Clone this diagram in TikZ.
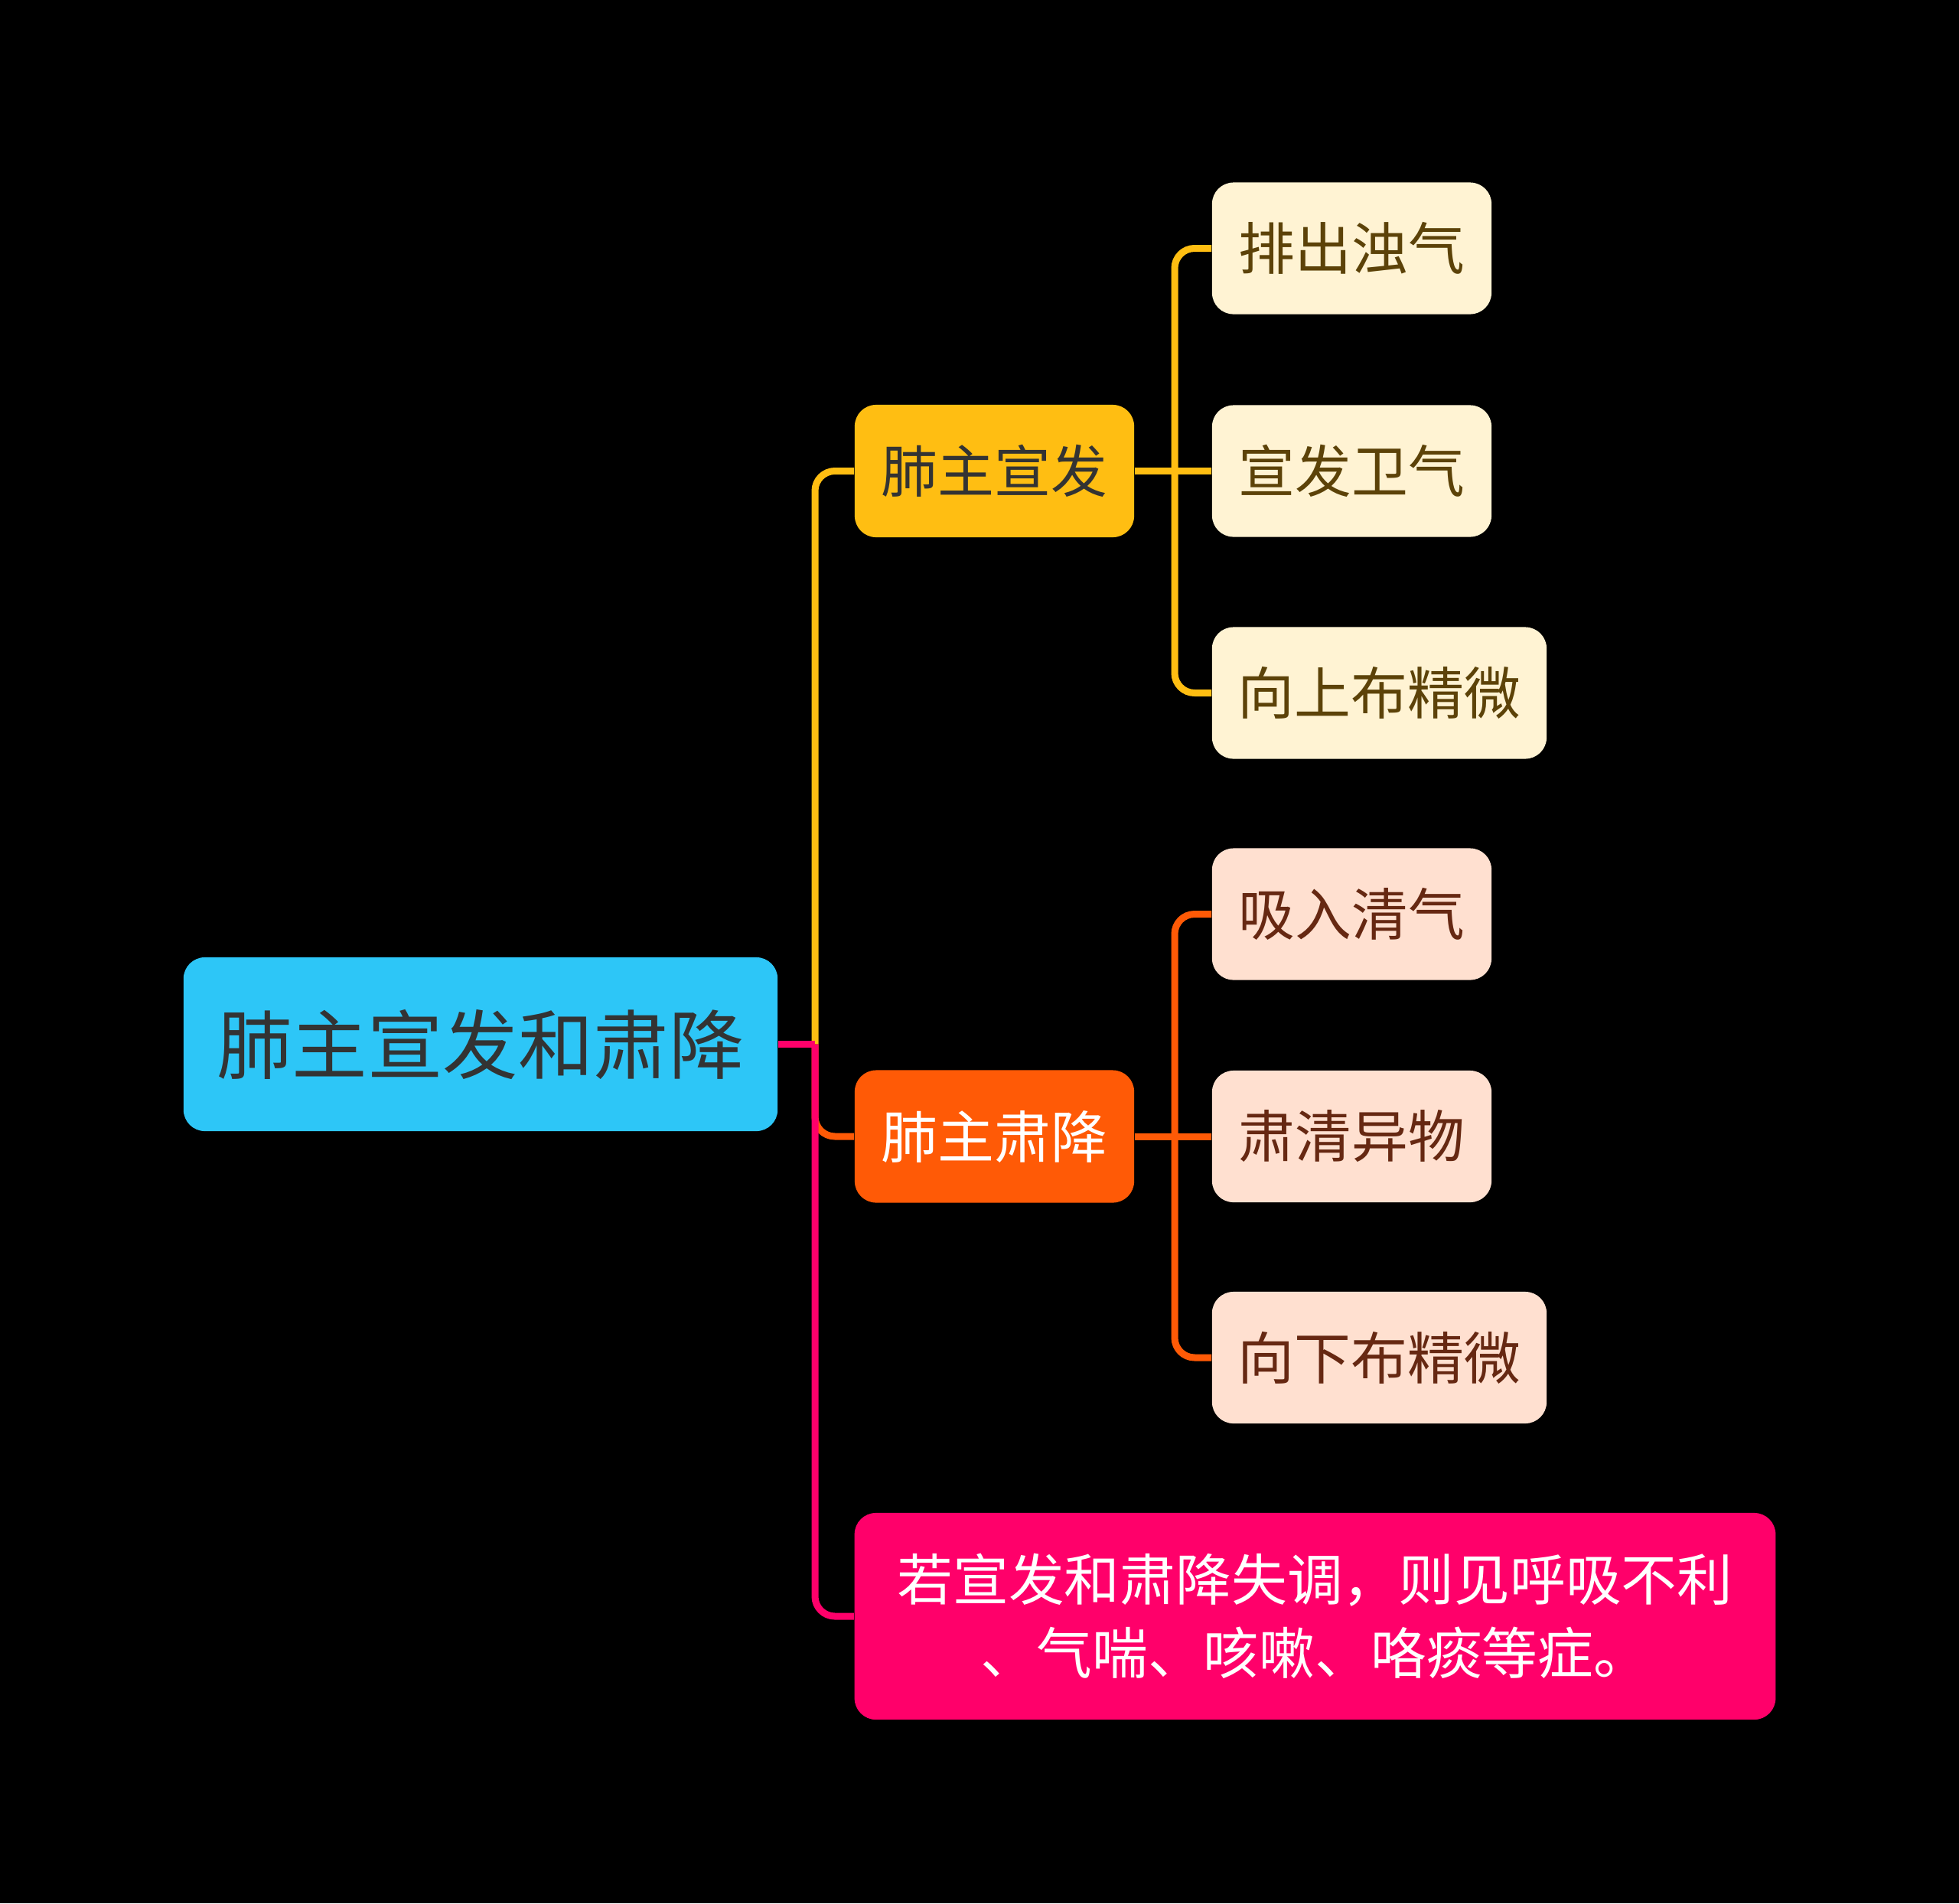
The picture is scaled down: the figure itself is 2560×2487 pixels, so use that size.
\documentclass[tikz,border=0pt]{standalone}
\usepackage{fontspec}
\setmainfont{Noto Sans CJK SC}
\definecolor{rootfill}{RGB}{45,198,247}
\definecolor{darktext}{RGB}{51,51,51}
\definecolor{amber}{RGB}{255,190,18}
\definecolor{orangered}{RGB}{255,90,6}
\definecolor{cream}{RGB}{255,243,211}
\definecolor{creamtext}{RGB}{92,66,8}
\definecolor{peach}{RGB}{255,224,208}
\definecolor{peachtext}{RGB}{102,40,18}
\definecolor{hotpink}{RGB}{255,0,106}
\tikzset{
  box/.style={rounded corners=0.28cm, inner sep=0pt, align=center},
  rootbox/.style={box, fill=rootfill, text=darktext, minimum width=7.76cm, minimum height=2.27cm,
    font=\fontsize{28pt}{34pt}\selectfont},
  midA/.style={box, fill=amber, text=darktext, minimum width=3.65cm, minimum height=1.73cm,
    font=\fontsize{21pt}{27pt}\selectfont},
  midB/.style={box, fill=orangered, text=white, minimum width=3.65cm, minimum height=1.73cm,
    font=\fontsize{21pt}{27pt}\selectfont},
  leafA/.style={box, fill=cream, text=creamtext, minimum height=1.72cm,
    font=\fontsize{21pt}{27pt}\selectfont},
  leafB/.style={box, fill=peach, text=peachtext, minimum height=1.72cm,
    font=\fontsize{21pt}{27pt}\selectfont},
  botbox/.style={box, fill=hotpink, text=white, minimum width=12.03cm, minimum height=2.70cm,
    font=\fontsize{20.7pt}{27.4pt}\selectfont},
  conn/.style={line width=0.09cm, rounded corners=0.26cm},
}
\begin{document}
\begin{tikzpicture}[x=0.01cm,y=-0.01cm]
\fill[black] (0,0) rectangle (2560,2487);

% nodes
\node[rootbox] (root) at (628,1364.5) {肺主宣发和肃降};
\node[midA] (m1) at (1299.5,615.5) {肺主宣发};
\node[midB] (m2) at (1299.5,1485) {肺主肃降};
\node[leafA, minimum width=3.65cm] (l1) at (1766.5,324.5) {排出浊气};
\node[leafA, minimum width=3.65cm] (l2) at (1766.5,615.5) {宣发卫气};
\node[leafA, minimum width=4.37cm] (l3) at (1802.5,905.5) {向上布精微};
\node[leafB, minimum width=3.65cm] (l4) at (1766.5,1194.5) {吸入清气};
\node[leafB, minimum width=3.65cm] (l5) at (1766.5,1485) {肃清异物};
\node[leafB, minimum width=4.37cm] (l6) at (1802.5,1774) {向下布精微};
\node[botbox] (bot) at (1718.5,2112) {若宣发和肃降失调，则见呼吸不利\\、气喘、咳嗽、咯痰等症。};

% junctions
\coordinate (j0) at (1065,1364.5);
\coordinate (j1) at (1535,615.5);
\coordinate (j2) at (1535,1485);

% first level connectors
\draw[conn, amber] (j0) |- (m1.west);
\draw[conn, orangered] (j0) |- (m2.west);
\draw[line width=0.09cm, hotpink] (root.east) -- (j0);
\draw[conn, hotpink] (j0) |- (bot.west);

% second level connectors
\draw[conn, amber] (m1.east) -- (l2.west);
\draw[conn, amber] (j1) |- (l1.west);
\draw[conn, amber] (j1) |- (l3.west);
\draw[conn, orangered] (m2.east) -- (l5.west);
\draw[conn, orangered] (j2) |- (l4.west);
\draw[conn, orangered] (j2) |- (l6.west);
\end{tikzpicture}
\end{document}
